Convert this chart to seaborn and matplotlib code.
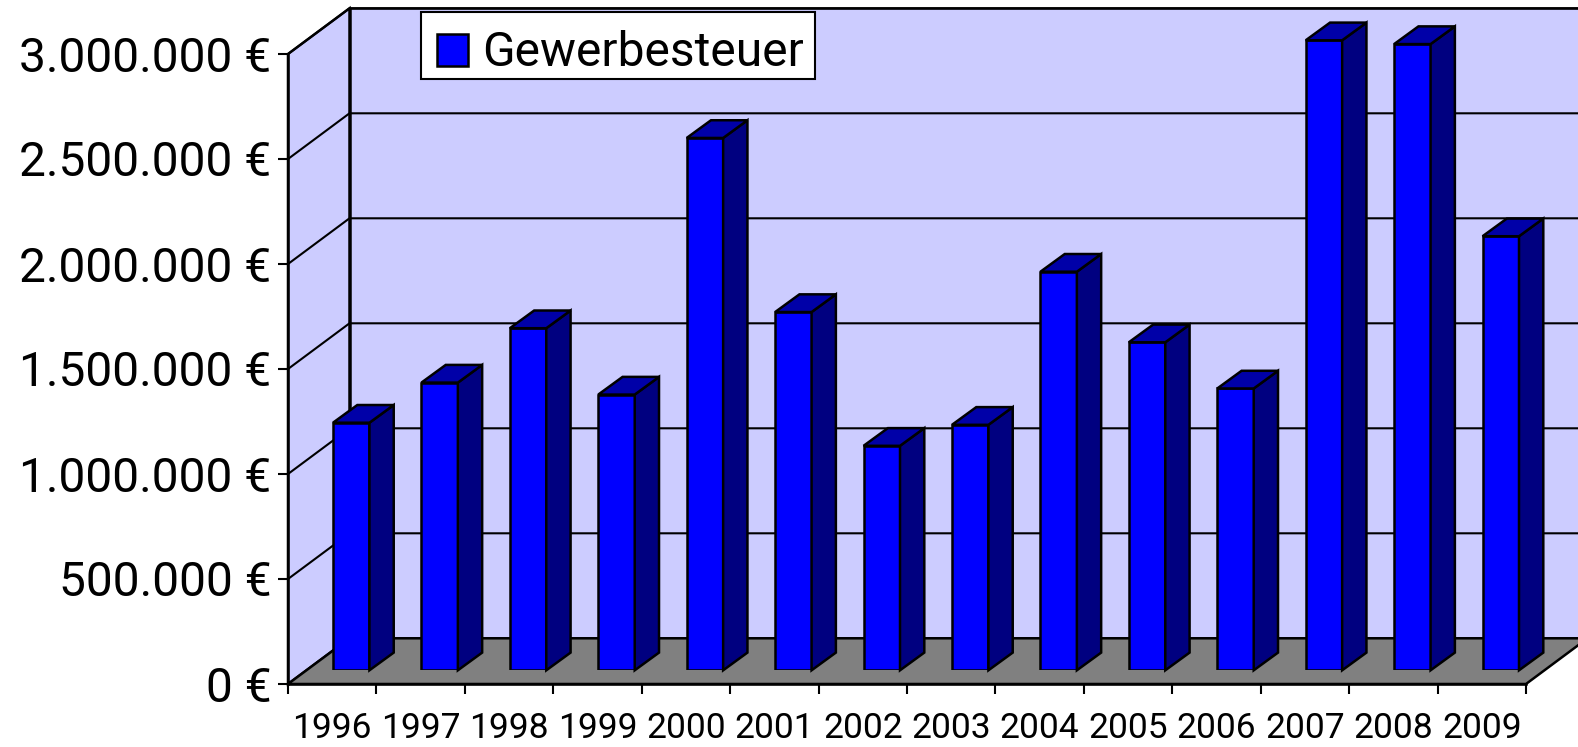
import numpy as np
import pandas as pd
import matplotlib.pyplot as plt
from matplotlib.patches import Polygon
from matplotlib.transforms import ScaledTranslation
import seaborn as sns

years = ['1996','1997','1998','1999','2000','2001','2002','2003','2004','2005','2006','2007','2008','2009']
tax = [1179000,1370000,1629000,1313000,2535000,1706000,1069000,1169000,1898000,1562000,1342000,3000000,2982000,2067000]
y_ticks = [0,500000,1000000,1500000,2000000,2500000,3000000]
y_labels = ['0 €','500.000 €','1.000.000 €','1.500.000 €','2.000.000 €','2.500.000 €','3.000.000 €']

sns.set_theme(style='white')
plt.rcParams['font.family'] = ['Roboto', 'DejaVu Sans']

W, H = 1578, 747
fig = plt.figure(figsize=(W/100, H/100), dpi=100)

# front plane of the fake 3d box, in pixels of the picture
left, right, y0, y3m = 288, 1526, 684, 54
ax = fig.add_axes([left/W, (H-y0)/H, (right-left)/W, (y0-y3m)/H])
ax.set_xlim(-0.5, 13.5)
ax.set_ylim(0, 3000000)

px_x = 14/(right-left)
px_y = 3000000/(y0-y3m)
wall_dx = 61.5*px_x
wall_dy = 45.7*px_y
x_a, x_b = -0.5, 13.5
y_top = 3000000
line = 1.8

ax.add_patch(Polygon([(x_a+wall_dx,wall_dy),(x_b+wall_dx,wall_dy),(x_b+wall_dx,y_top+wall_dy),(x_a+wall_dx,y_top+wall_dy)],
                     fc='#ccccff', ec='black', lw=line, clip_on=False, zorder=1))
ax.add_patch(Polygon([(x_a,0),(x_a+wall_dx,wall_dy),(x_a+wall_dx,y_top+wall_dy),(x_a,y_top)],
                     fc='#ccccff', ec='black', lw=line, clip_on=False, zorder=1))
for t in y_ticks[1:]:
    ax.plot([x_a,x_a+wall_dx,x_b+wall_dx],[t,t+wall_dy,t+wall_dy],color='black',lw=1.5,clip_on=False,zorder=2)
ax.add_patch(Polygon([(x_a,0),(x_b,0),(x_b+wall_dx,wall_dy),(x_a+wall_dx,wall_dy)],
                     fc='#808080', ec='black', lw=line, clip_on=False, zorder=3))

for s in ['top','right']:
    ax.spines[s].set_visible(False)
for s in ['left','bottom']:
    ax.spines[s].set_linewidth(line)
    ax.spines[s].set_color('black')
    ax.spines[s].set_zorder(4)
ax.set_yticks(y_ticks)
ax.set_yticklabels(y_labels, fontsize=34.5, va='center')
ax.tick_params(axis='y', left=True, length=7.5, width=1.5, pad=4.5, color='black', labelcolor='black')
# labels sit a little below their ticks in the original
for lab in ax.get_yticklabels():
    lab.set_transform(lab.get_transform()+ScaledTranslation(0, -4.5/100, fig.dpi_scale_trans))
ax.set_xticks(np.arange(-0.5, 14, 1))
ax.set_xticklabels([])
ax.tick_params(axis='x', which='major', bottom=True, length=7.5, width=1.5, color='black')
ax.set_xticks(np.arange(14), minor=True)
ax.set_xticklabels(years, minor=True, fontsize=25.5)
ax.tick_params(axis='x', which='minor', bottom=False, length=0, pad=20, labelcolor='black')

# bars stand a bit inside the floor so they get their own shifted axes
shift_x, shift_y = 19, 13.7
ax_bar = fig.add_axes([(left+shift_x)/W, (H-y0+shift_y)/H, (right-left)/W, (y0-y3m)/H])
df = pd.DataFrame({'Jahr': years, 'Gewerbesteuer': tax})
sns.barplot(data=df, x='Jahr', y='Gewerbesteuer', color='#0000ff', saturation=1, width=0.412,
            edgecolor='black', linewidth=line, label='Gewerbesteuer', ax=ax_bar, zorder=5)
ax_bar.set_xlim(-0.5, 13.5)
ax_bar.set_ylim(0, 3000000)
ax_bar.axis('off')

bar_dx = 24.3*px_x
bar_dy = 17.7*px_y
for p in ax_bar.patches:
    x1 = p.get_x()+p.get_width()
    x0 = p.get_x()
    h = p.get_height()
    ax_bar.add_patch(Polygon([(x1,0),(x1+bar_dx,bar_dy),(x1+bar_dx,h+bar_dy),(x1,h)],
                             fc='#000080', ec='black', lw=line, clip_on=False, zorder=5))
    ax_bar.add_patch(Polygon([(x0,h),(x1,h),(x1+bar_dx,h+bar_dy),(x0+bar_dx,h+bar_dy)],
                             fc='#0000a8', ec='black', lw=line, clip_on=False, zorder=5))

leg = ax_bar.legend(loc='upper left', bbox_to_anchor=(421/W, 1-12/H), bbox_transform=fig.transFigure,
                    fontsize=34.5, labelcolor='black', frameon=True, fancybox=False, framealpha=1, edgecolor='black',
                    borderaxespad=0, borderpad=0.215, handlelength=0.65, handleheight=0.65, handletextpad=0.42)
leg.get_frame().set_linewidth(1.5)
leg.set_zorder(10)
# nudge key and text down inside the frame
hd = leg.legend_handles[0]
hd.set_x(hd.get_x()+4)
hd.set_y(hd.get_y()-6)
leg.get_texts()[0].set_y(-8)

plt.savefig('out.png', dpi=100)
